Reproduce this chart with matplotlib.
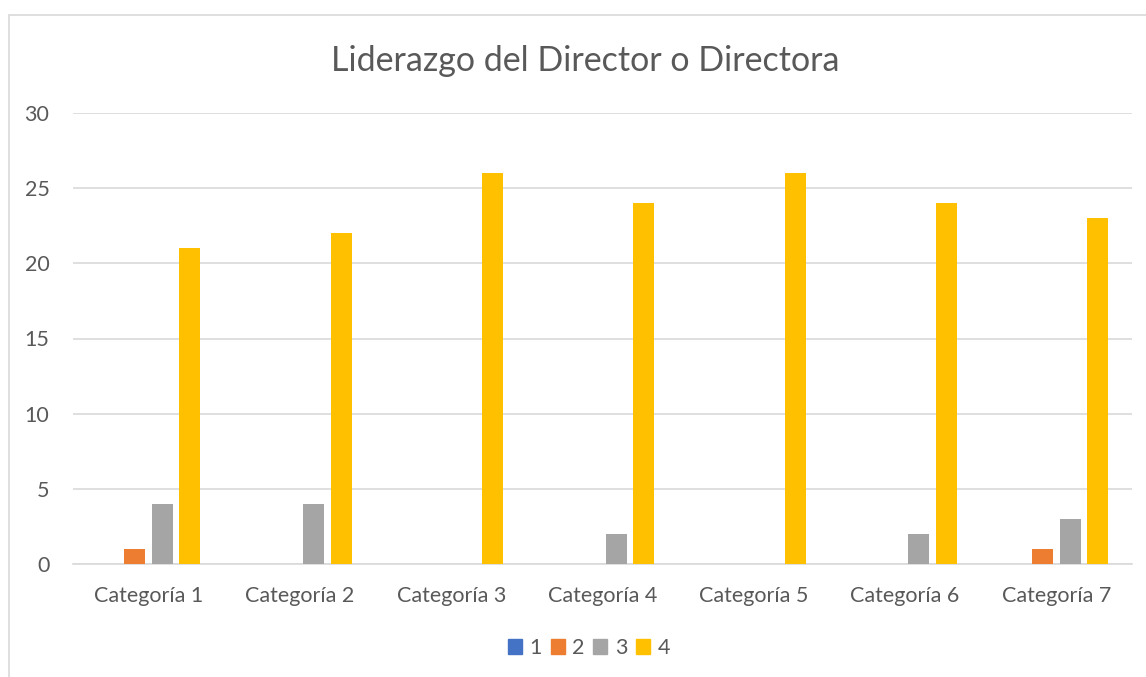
import matplotlib
matplotlib.use("Agg")
import matplotlib.pyplot as plt
import matplotlib.patches as mpatches
import numpy as np

categories = ["Categoría 1", "Categoría 2", "Categoría 3", "Categoría 4",
              "Categoría 5", "Categoría 6", "Categoría 7"]
series_names = ["1", "2", "3", "4"]
s1 = [0, 0, 0, 0, 0, 0, 0]
s2 = [1, 0, 0, 0, 0, 0, 1]
s3 = [4, 4, 0, 2, 0, 2, 3]
s4 = [21, 22, 26, 24, 26, 24, 23]
yticks = [0, 5, 10, 15, 20, 25, 30]
colors = ["#4472C4", "#ED7D31", "#A5A5A5", "#FFC000"]
title = "Liderazgo del Director o Directora"

plt.rcParams['font.family'] = ['Lato', 'DejaVu Sans']
txt = "#595959"

fig = plt.figure(figsize=(11.46, 6.77), dpi=100)
ax = fig.add_axes([73/1146, (677-564)/677, (1132-73)/1146, (564-113)/677])

x = np.arange(len(categories))
width = 0.139
step = 0.182
series = [s1, s2, s3, s4]
handles = []
for i, (vals, c, name) in enumerate(zip(series, colors, series_names)):
    ax.bar(x + (i - 1.5) * step, vals, width, color=c, label=name, zorder=3)
    handles.append(mpatches.Patch(color=c, label=name))

ax.set_xlim(-0.5, len(categories) - 0.5)
ax.set_ylim(0, 30)
ax.set_yticks(yticks)
ax.set_xticks(x)
ax.set_xticklabels(categories)
ax.yaxis.grid(True, color="#d9d9d9", linewidth=1.2, zorder=0)
for s in ["top", "right", "left"]:
    ax.spines[s].set_visible(False)
ax.spines["bottom"].set_color("#d9d9d9")
ax.spines["bottom"].set_linewidth(1.2)
ax.tick_params(axis="both", length=0, labelsize=15.5, colors=txt)
ax.tick_params(axis="y", pad=17)
ax.tick_params(axis="x", pad=16)

fig.text(585/1146, 1 - 61/677, title, ha="center", va="center",
         fontsize=24.5, color=txt)

fig.legend(handles=handles, loc="center", bbox_to_anchor=(589/1146, 1 - 648/677),
           ncol=4, frameon=False, fontsize=15.5, handlelength=0.65,
           handleheight=0.65, handletextpad=0.35, columnspacing=0.4,
           labelcolor=txt)

border = mpatches.Rectangle((8.5/1146, -0.1), 2, 1.1 - 15/677,
                            transform=fig.transFigure, fill=False,
                            edgecolor="#d9d9d9", linewidth=1.2)
fig.patches.append(border)

fig.savefig("out.png", dpi=100)
